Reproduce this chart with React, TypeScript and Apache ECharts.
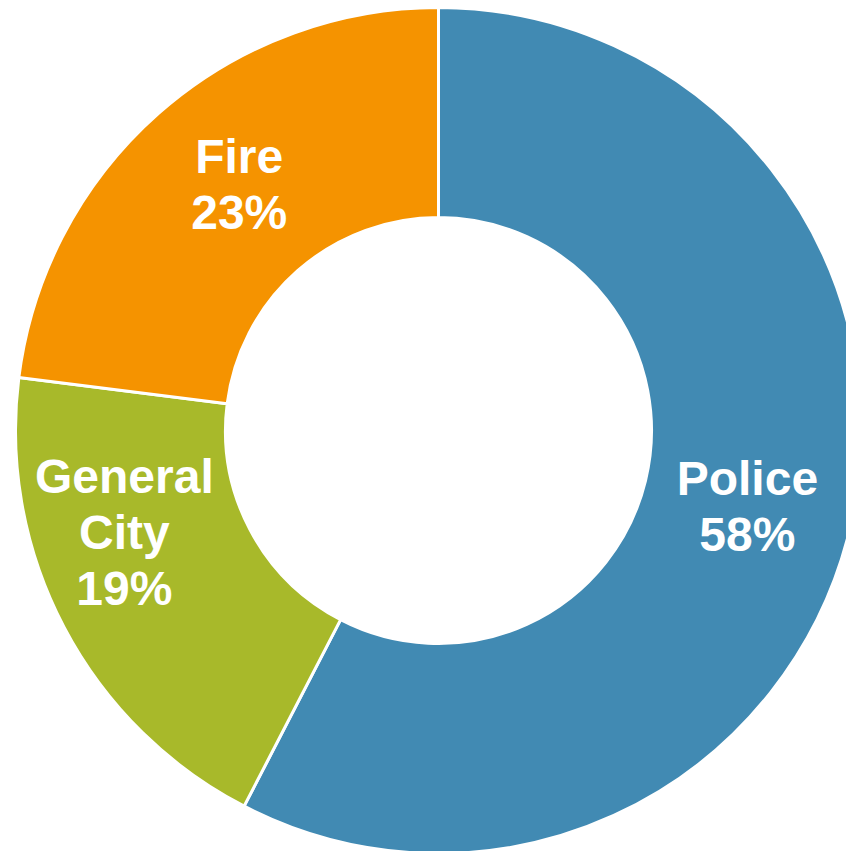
import React, { useEffect, useRef } from "react";
import * as echarts from "echarts";

const categories = ["Police", "General\nCity", "Fire"];
const values = [57.6, 19.4, 23.0];
const colors = ["#418AB3", "#A8B92A", "#F59300"];
const labelShift = [
  [-3, 0],
  [-30, -47],
  [13, -5],
];

export default function App() {
  const ref = useRef<HTMLDivElement>(null);
  useEffect(() => {
    if (!ref.current) return;
    const chart = echarts.init(ref.current, undefined, { renderer: "svg" });
    chart.setOption({
      animation: false,
      backgroundColor: "#ffffff",
      series: [
        {
          type: "pie",
          center: [438.5, 430.5],
          radius: [213, 423],
          startAngle: 90,
          clockwise: true,
          avoidLabelOverlap: false,
          itemStyle: { borderColor: "#ffffff", borderWidth: 3 },
          label: {
            show: true,
            position: "inside",
            color: "#ffffff",
            fontFamily: "Liberation Sans, Arial, sans-serif",
            fontWeight: "bold",
            fontSize: 48,
            lineHeight: 56,
            align: "center",
            formatter: (p: any) => `${p.name}\n${Math.round(p.value)}%`,
          },
          labelLine: { show: false },
          labelLayout: (p: any) => ({
            dx: labelShift[p.dataIndex][0],
            dy: labelShift[p.dataIndex][1],
          }),
          emphasis: { disabled: true },
          data: categories.map((c, i) => ({
            name: c,
            value: values[i],
            itemStyle: { color: colors[i] },
          })),
        },
      ],
    });
    return () => chart.dispose();
  }, []);
  return (
    <div
      ref={ref}
      style={{ position: "fixed", left: 0, top: 0, width: 846, height: 851 }}
    />
  );
}
